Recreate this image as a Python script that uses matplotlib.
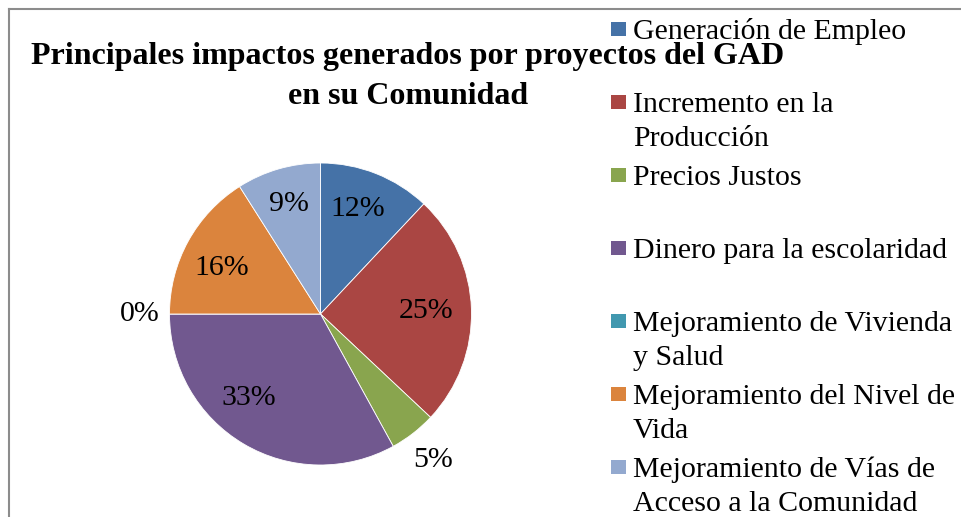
import matplotlib.pyplot as plt
from matplotlib.lines import Line2D
from matplotlib.patches import Rectangle
import numpy as np

plt.rcParams['font.family'] = ['Liberation Serif', 'DejaVu Serif']

# data (percent)
categorias = [
    "Generación de Empleo",
    "Incremento en la\nProducción",
    "Precios Justos",
    "Dinero para la escolaridad",
    "Mejoramiento de Vivienda\ny Salud",
    "Mejoramiento del Nivel de\nVida",
    "Mejoramiento de Vías de\nAcceso a la Comunidad",
]
porcentajes = [12, 25, 5, 33, 0, 16, 9]
colores = ["#4572A7", "#AA4643", "#89A54E", "#71588F", "#4198AF", "#DB843D", "#93A9CF"]
titulo = "Principales impactos generados por proyectos del GAD\nen su Comunidad"

# label placement (Excel "best fit"): distance from centre in radii, angle nudge in degrees
dist_etiqueta = [0.74, 0.70, 1.22, 0.73, 1.20, 0.72, 0.76]
ajuste_ang = [-2, 0, 0, 10, 0, -4, 0]

W, H = 961, 517
fig = plt.figure(figsize=(W / 100, H / 100), dpi=100)


def fx(px):
    return px / W


def fy(py):
    return 1 - py / H


# pie axes: centre (320, 314), radius 151 px
cx, cy, r = 320.5, 314, 151
ax = fig.add_axes([fx(cx - r), fy(cy + r), 2 * r / W, 2 * r / H])
wedges, _ = ax.pie(porcentajes, colors=colores, startangle=90, counterclock=False,
                   radius=1, wedgeprops=dict(edgecolor="white", linewidth=0.6))
ax.set_xlim(-1, 1)
ax.set_ylim(-1, 1)
ax.axis("off")

# percent labels
total = sum(porcentajes)
acum = 0
for v, d, da in zip(porcentajes, dist_etiqueta, ajuste_ang):
    mid = (acum + v / 2) / total * 360 + da
    acum += v
    ang = np.deg2rad(90 - mid)
    ax.text(d * np.cos(ang), d * np.sin(ang), f"{v}%", ha="center", va="center",
            fontsize=21.5, color="black")

# title
lineas = titulo.split("\n")
for i, linea in enumerate(lineas):
    fig.text(fx(408), fy(64 + i * 40), linea, ha="center", va="baseline",
             fontsize=23, fontweight="bold")

# legend drawn by hand, Excel style
y0 = 29
paso = 73
for i, (cat, col) in enumerate(zip(categorias, colores)):
    ym = y0 + i * paso
    fig.add_artist(Rectangle((fx(611), fy(ym + 7)), 15 / W, 14 / H, facecolor=col,
                             edgecolor="none", transform=fig.transFigure))
    for j, linea in enumerate(cat.split("\n")):
        fig.text(fx(633), fy(ym + 10 + j * 34), linea, ha="left", va="baseline",
                 fontsize=21.5)

# chart area border (only top and left visible in the crop)
fig.add_artist(Line2D([fx(9), 1], [fy(9), fy(9)], color="#8c8c8c", lw=1.5,
                      transform=fig.transFigure))
fig.add_artist(Line2D([fx(9), fx(9)], [fy(9), 0], color="#8c8c8c", lw=1.5,
                      transform=fig.transFigure))

fig.savefig("out.png", dpi=100)
